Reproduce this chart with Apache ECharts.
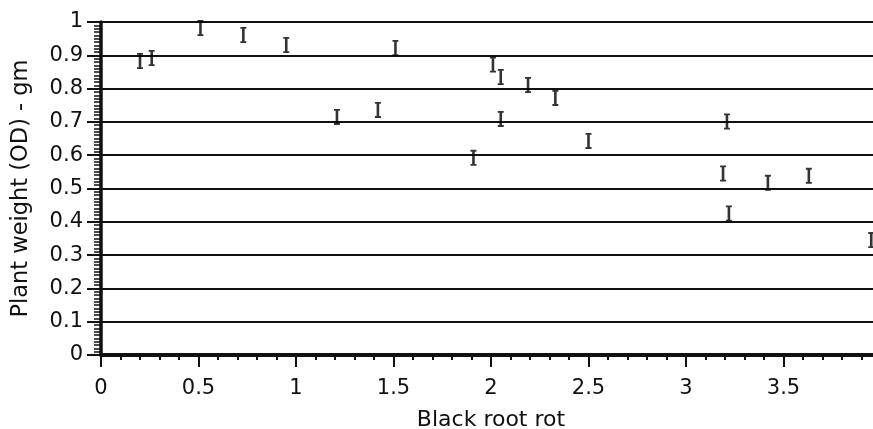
<!DOCTYPE html>
<html>
<head>
<meta charset="utf-8">
<script src="https://cdn.jsdelivr.net/npm/echarts@6/dist/echarts.min.js"></script>
<style>
  html, body { margin: 0; padding: 0; background: #fff; overflow: hidden; }
  #frame { width: 873px; height: 429px; overflow: hidden; position: relative; }
  /* the source plot runs a little past the right edge of the picture */
  #chart { width: 881px; height: 429px; position: absolute; left: 0; top: 0; }
</style>
</head>
<body>
<div id="frame"><div id="chart"></div></div>
<script>
// readings taken off the plot, one "I" mark per pair
var rootRot = [0.20, 0.26, 0.51, 0.73, 0.95, 1.51, 1.21, 1.42, 2.01, 2.05, 2.19,
               2.33, 2.05, 1.91, 2.50, 3.21, 3.19, 3.42, 3.63, 3.22, 3.95];
var plantWeight = [0.883, 0.892, 0.982, 0.961, 0.931, 0.922, 0.715, 0.736, 0.872, 0.835, 0.811,
                   0.772, 0.709, 0.592, 0.643, 0.701, 0.545, 0.517, 0.538, 0.425, 0.345];

var xName = 'Black root rot';
var yName = 'Plant weight (OD) - gm';

var points = rootRot.map(function (x, i) { return [x, plantWeight[i]]; });

var font = 'DejaVu Sans';
var ink = '#111';

var chart = echarts.init(document.getElementById('chart'));
chart.setOption({
    animation: false,
    backgroundColor: '#fff',
    grid: { left: 101, right: 0, top: 22, bottom: 74, outerBoundsMode: 'none' },
    xAxis: [{
        type: 'value',
        min: 0,
        max: 4,
        interval: 0.5,
        name: xName,
        nameLocation: 'middle',
        nameGap: 54,
        nameTextStyle: { fontFamily: font, fontSize: 22, color: ink },
        axisLine: { show: true, onZero: false, lineStyle: { color: ink, width: 2.5 } },
        axisTick: { show: true, length: 12, lineStyle: { color: ink, width: 2 } },
        minorTick: { show: true, splitNumber: 5, length: 5, lineStyle: { color: ink, width: 2 } },
        axisLabel: { fontFamily: font, fontSize: 21, color: ink, margin: 23, showMaxLabel: false },
        splitLine: { show: false }
    }, {
        // thick frame line along the top
        type: 'value',
        position: 'top',
        min: 0,
        max: 4,
        axisLine: { show: true, lineStyle: { color: ink, width: 4 } },
        axisTick: { show: false },
        axisLabel: { show: false },
        splitLine: { show: false }
    }],
    yAxis: {
        type: 'value',
        min: 0,
        max: 1,
        interval: 0.1,
        name: yName,
        nameLocation: 'middle',
        nameGap: 68,
        nameTextStyle: { fontFamily: font, fontSize: 22.5, color: ink },
        axisLine: { show: true, lineStyle: { color: ink, width: 3.5 } },
        axisTick: { show: true, length: 14, lineStyle: { color: ink, width: 2 } },
        minorTick: { show: true, splitNumber: 10, length: 7, lineStyle: { color: ink, width: 1.5 } },
        axisLabel: { fontFamily: font, fontSize: 21, color: ink, margin: 18 },
        splitLine: { show: true, lineStyle: { color: ink, width: 2 } }
    },
    series: [{
        type: 'scatter',
        data: points,
        symbol: 'path://M0,0H6V1.8H4.3V14.2H6V16H0V14.2H1.7V1.8H0Z',
        symbolSize: [6, 16],
        itemStyle: { color: '#000' },
        z: 5
    }]
});
</script>
</body>
</html>
